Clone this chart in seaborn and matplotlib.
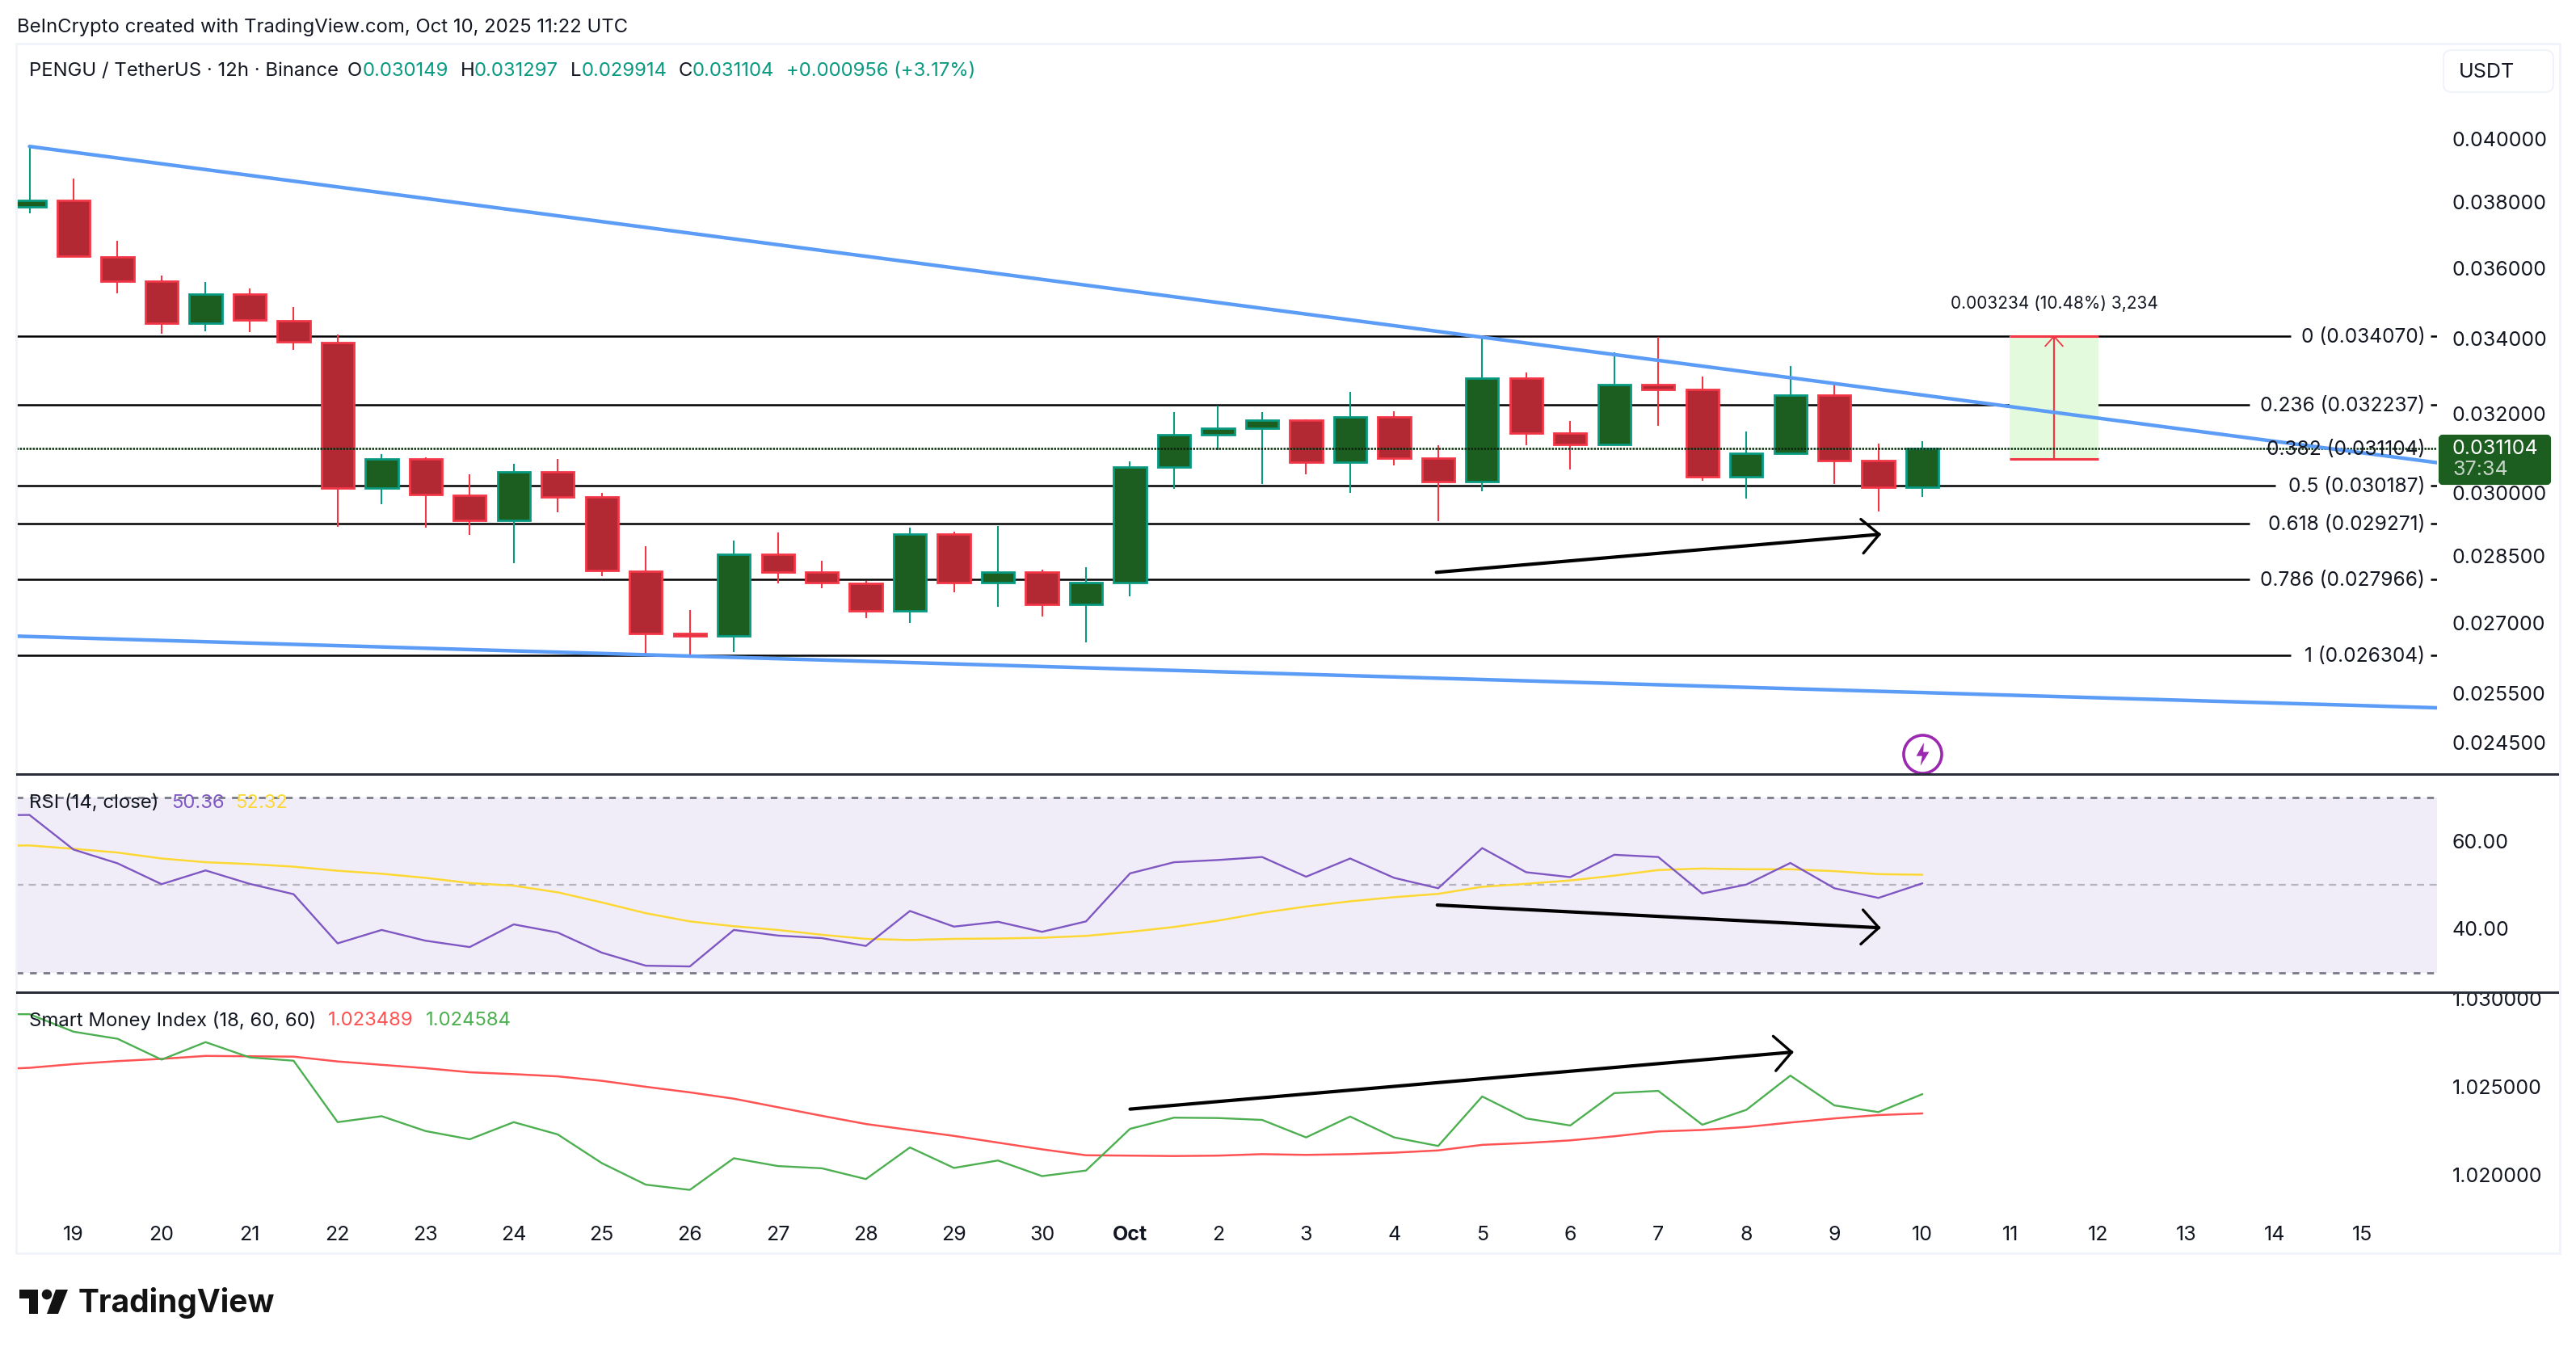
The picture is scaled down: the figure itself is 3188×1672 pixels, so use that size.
import matplotlib
matplotlib.use('Agg')
import matplotlib.pyplot as plt
from matplotlib.patches import Rectangle, FancyBboxPatch, Polygon, Circle
from matplotlib.ticker import NullLocator
from matplotlib.transforms import IdentityTransform
import numpy as np
import seaborn as sns

W, H = 3188, 1672

# 12h candles, Sep 18 12:00 -> Oct 10 00:00
opens = [0.03785, 0.03804, 0.03635, 0.03562, 0.03443, 0.03527, 0.03451, 0.03389, 0.03012, 0.03085, 0.02995,
         0.02934, 0.03053, 0.02990, 0.02816, 0.02677, 0.02672, 0.02855, 0.02813, 0.02788, 0.02726, 0.02902,
         0.02789, 0.02813, 0.02741, 0.02789, 0.03064, 0.03145, 0.03162, 0.03183, 0.03077, 0.03191, 0.03086,
         0.03028, 0.03293, 0.03150, 0.03121, 0.03276, 0.03263, 0.03040, 0.03099, 0.03248, 0.03080, 0.030149]
closes = [0.03805, 0.03636, 0.03562, 0.03443, 0.03527, 0.03452, 0.03391, 0.03012, 0.03085, 0.02997, 0.02934,
          0.03053, 0.02990, 0.02817, 0.02677, 0.02672, 0.02855, 0.02813, 0.02789, 0.02726, 0.02902, 0.02789,
          0.02813, 0.02740, 0.02789, 0.03064, 0.03145, 0.03162, 0.03183, 0.03077, 0.03191, 0.03086, 0.03028,
          0.03293, 0.03150, 0.03120, 0.03276, 0.03263, 0.03040, 0.03098, 0.03248, 0.03081, 0.03014, 0.031104]
highs = [0.03975, 0.03873, 0.03682, 0.03580, 0.03561, 0.03542, 0.03489, 0.03411, 0.03096, 0.03089, 0.03046,
         0.03072, 0.03084, 0.03001, 0.02873, 0.02728, 0.02886, 0.02906, 0.02839, 0.02794, 0.02916, 0.02907,
         0.02921, 0.02820, 0.02824, 0.03079, 0.03203, 0.03220, 0.03203, 0.03186, 0.03257, 0.03205, 0.03119,
         0.03407, 0.03309, 0.03180, 0.03364, 0.03405, 0.03297, 0.03154, 0.03325, 0.03276, 0.03123, 0.031297]
lows = [0.03764, 0.03633, 0.03528, 0.03414, 0.03421, 0.03419, 0.03370, 0.02919, 0.02973, 0.02916, 0.02900,
        0.02834, 0.02953, 0.02804, 0.02632, 0.02624, 0.02637, 0.02788, 0.02777, 0.02711, 0.02700, 0.02768,
        0.02735, 0.02714, 0.02658, 0.02759, 0.03011, 0.03106, 0.03023, 0.03047, 0.03000, 0.03069, 0.02933,
        0.03005, 0.03119, 0.03059, 0.03121, 0.03169, 0.03031, 0.02987, 0.03099, 0.03023, 0.02956, 0.029914]

# indicators start one bar before the first visible candle
rsi = [65.9, 65.97, 58.07, 54.93, 50.17, 53.31, 50.25, 47.88, 36.66, 39.72, 37.26, 35.81, 40.99, 39.12, 34.54, 31.56,
       31.39, 39.72, 38.44, 37.85, 36.07, 44.05, 40.48, 41.59, 39.29, 41.67, 52.63, 55.18, 55.69, 56.37, 51.87,
       56.03, 51.61, 49.24, 58.41, 52.89, 51.78, 56.88, 56.37, 48.05, 50.08, 55.01, 49.24, 47.03, 50.36]
rsi_ma = [58.9, 59.01, 58.24, 57.39, 56.03, 55.18, 54.76, 54.16, 53.23, 52.55, 51.61, 50.42, 49.83, 48.30, 46.01, 43.54,
          41.67, 40.57, 39.72, 38.62, 37.68, 37.43, 37.68, 37.77, 37.94, 38.36, 39.29, 40.40, 41.84, 43.63, 45.07,
          46.26, 47.20, 47.96, 49.58, 50.25, 51.02, 52.12, 53.40, 53.74, 53.57, 53.57, 53.14, 52.46, 52.32]

smi = [1.029115, 1.029115, 1.028123, 1.027722, 1.026540, 1.027532, 1.026667, 1.026477, 1.022995, 1.023333, 1.022489,
       1.022025, 1.022995, 1.022299, 1.020674, 1.019451, 1.019155, 1.020949, 1.020506, 1.020379, 1.019767, 1.021561,
       1.020400, 1.020822, 1.019936, 1.020252, 1.022616, 1.023249, 1.023228, 1.023122, 1.022130, 1.023312, 1.022130,
       1.021645, 1.024451, 1.023206, 1.022806, 1.024641, 1.024768, 1.022848, 1.023692, 1.025633, 1.023945, 1.023565,
       1.024584]
smi_signal = [1.025970, 1.026076, 1.026287, 1.026456, 1.026583, 1.026751, 1.026730, 1.026709, 1.026435, 1.026245,
              1.026055, 1.025823, 1.025717, 1.025591, 1.025338, 1.025000, 1.024684, 1.024325, 1.023840, 1.023354,
              1.022890, 1.022552, 1.022215, 1.021835, 1.021455, 1.021118, 1.021097, 1.021075, 1.021097, 1.021181,
              1.021139, 1.021181, 1.021265, 1.021392, 1.021708, 1.021814, 1.021962, 1.022194, 1.022468, 1.022552,
              1.022721, 1.022974, 1.023206, 1.023396, 1.023489]

fib_ratios = ['0', '0.236', '0.382', '0.5', '0.618', '0.786', '1']
fib_prices = [0.034070, 0.032237, 0.031104, 0.030187, 0.029271, 0.027966, 0.026304]
fib_label_str = ['0.034070', '0.032237', '0.031104', '0.030187', '0.029271', '0.027966', '0.026304']
fib_line_end = [51.36, 50.43, 50.43, 51.01, 50.43, 50.43, 51.36]

price_ticks = [0.040, 0.038, 0.036, 0.034, 0.032, 0.030, 0.0285, 0.027, 0.0255, 0.0245]
rsi_ticks = [60, 40]
smi_ticks = [1.030, 1.025, 1.020]
date_labels = ['19', '20', '21', '22', '23', '24', '25', '26', '27', '28', '29', '30', 'Oct', '2', '3', '4', '5', '6',
               '7', '8', '9', '10', '11', '12', '13', '14', '15']

# drawing tools on the chart, (candle index, value)
XMIN, XMAX = -0.303, 54.69
upper_trend = ([0, XMAX], [0.03975, 0.03075])
lower_trend = ([XMIN, XMAX], [0.02671, 0.02520])
price_arrow = ([31.96, 42.02], [0.02813, 0.02901])
price_head = ([41.60, 42.02, 41.66], [0.02937, 0.02901, 0.02857])
rsi_arrow = ([31.98, 42.01], [45.41, 40.23])
rsi_head = ([41.65, 42.01, 41.60], [44.31, 40.23, 36.49])
smi_arrow = ([25.0, 40.03], [1.023734, 1.026962])
smi_head = ([39.61, 40.03, 39.67], [1.02787, 1.026962, 1.025907])
range_x = [44.98, 47.0, 45.99]
range_prices = [0.03085, 0.03407]

GREEN_BODY, GREEN_EDGE = '#1b5e20', '#089981'
RED_BODY, RED_EDGE = '#b22833', '#f23645'
BLUE = '#5b9cf6'

sns.set_theme(style='white')
plt.rcParams['font.family'] = ['Inter', 'DejaVu Sans']
plt.rcParams['text.color'] = '#131722'

fig = plt.figure(figsize=(W / 100, H / 100), dpi=100, facecolor='white')


def pane(top, bottom, left=20, right=3016):
    return fig.add_axes([left / W, 1 - bottom / H, (right - left) / W, (bottom - top) / H])


def ftext(x, y, s, size=17.2, color='#131722', **kw):
    fig.text(x / W, 1 - y / H, s, fontsize=size, color=color, va='center', **kw)


def pxbox(patch):
    patch.set_transform(IdentityTransform())
    fig.add_artist(patch)


def style(ax, ylim, ticks, labels):
    ax.set_xlim(XMIN, XMAX)
    ax.set_ylim(*ylim)
    ax.yaxis.tick_right()
    ax.set_yticks(ticks)
    ax.set_yticklabels(labels)
    ax.yaxis.set_minor_locator(NullLocator())
    ax.set_xticks([])
    ax.tick_params(axis='y', length=0, pad=13.5, labelsize=18, labelcolor='#131722')
    ax.set_xlabel('')
    ax.set_ylabel('')
    for s in ax.spines.values():
        s.set_visible(False)
    ax.patch.set_alpha(0)


idx = np.arange(len(opens))
ind_idx = np.arange(len(rsi)) - 1
o, c, h, l = map(np.array, (opens, closes, highs, lows))
up = c >= o

# price pane
ax = pane(54, 958)
ax.set_yscale('log')
for i, (price, end) in enumerate(zip(fib_prices, fib_line_end)):
    if fib_ratios[i] != '0.382':
        ax.hlines(price, XMIN, end, color='black', lw=1.8, zorder=1)
        ax.hlines(price, 54.54, XMAX, color='black', lw=1.8, zorder=1)
    ax.annotate(f'{fib_ratios[i]} ({fib_label_str[i]})', (54.42, price), xytext=(0, -1.2), textcoords='offset points',
                ha='right', va='center', fontsize=17.6, zorder=6, color='#131722')
ax.hlines(closes[-1], XMIN, XMAX, color='#06280a', lw=1.8, ls=(0, (1, 0.6)), zorder=4.5)

ax.fill_between(range_x[:2], range_prices[0], range_prices[1], color='#e3fbdc', lw=0, zorder=1.5)
ax.hlines(range_prices, range_x[0], range_x[1], color=RED_EDGE, lw=2.2, zorder=3)
ax.vlines(range_x[2], range_prices[0], range_prices[1], color=RED_EDGE, lw=1.6, zorder=3)
ax.plot([range_x[2] - 0.2, range_x[2], range_x[2] + 0.2], [0.03380, range_prices[1], 0.03380], color=RED_EDGE, lw=1.3,
        zorder=3)
ax.text(range_x[2], 0.03498, '0.003234 (10.48%) 3,234', ha='center', va='center', fontsize=15, color='#131722')

ax.vlines(idx[up], l[up], h[up], color=GREEN_EDGE, lw=1.5, zorder=3)
ax.vlines(idx[~up], l[~up], h[~up], color=RED_EDGE, lw=1.5, zorder=3)
ax.bar(idx[up], (c - o)[up], bottom=o[up], width=0.74, color=GREEN_BODY, edgecolor=GREEN_EDGE, lw=2, zorder=4)
ax.bar(idx[~up], (o - c)[~up], bottom=c[~up], width=0.74, color=RED_BODY, edgecolor=RED_EDGE, lw=2, zorder=4)

ax.plot(*upper_trend, color=BLUE, lw=3.2, zorder=5)
ax.plot(*lower_trend, color=BLUE, lw=3.2, zorder=5)
ax.plot(*price_arrow, color='black', lw=3, solid_capstyle='round', zorder=6)
ax.plot(*price_head, color='black', lw=2.4, solid_capstyle='round', zorder=6)

# dividends-style flash marker under the last candle
bolt = [(0.1, 1), (-0.55, -0.15), (-0.05, -0.15), (-0.2, -1), (0.55, 0.2), (0.05, 0.2), (0.1, 1)]
ax.scatter([43], [0.02428], s=1150, facecolor='white', edgecolor='#9c27b0', lw=2.6, zorder=6)
ax.scatter([43], [0.02428], s=430, marker=bolt, color='#9c27b0', lw=0, zorder=7)

style(ax, (0.02388, 0.04321), price_ticks, [f'{t:.6f}' for t in price_ticks])

# rsi pane
ax2 = pane(958, 1228)
ax2.axhspan(30, 70, color='#7e57c2', alpha=0.1, lw=0)
ax2.axhline(70, color='#787b86', lw=2, ls=(0, (3, 3)))
ax2.axhline(50, color='#787b86', lw=1.6, alpha=0.5, ls=(0, (4, 3)))
ax2.axhline(30, color='#787b86', lw=2, ls=(0, (3, 3)))
sns.lineplot(x=ind_idx, y=rsi_ma, ax=ax2, color='#fdd835', lw=1.8, errorbar=None)
sns.lineplot(x=ind_idx, y=rsi, ax=ax2, color='#7e57c2', lw=1.7, errorbar=None)
ax2.plot(*rsi_arrow, color='black', lw=3, solid_capstyle='round')
ax2.plot(*rsi_head, color='black', lw=2.4, solid_capstyle='round')
style(ax2, (25.5, 75.3), rsi_ticks, [f'{t:.2f}' for t in rsi_ticks])

# smart money pane
ax3 = pane(1228, 1500)
sns.lineplot(x=ind_idx, y=smi_signal, ax=ax3, color='#ff5252', lw=1.8, errorbar=None)
sns.lineplot(x=ind_idx, y=smi, ax=ax3, color='#4caf50', lw=1.7, errorbar=None)
ax3.plot(*smi_arrow, color='black', lw=3, solid_capstyle='round')
ax3.plot(*smi_head, color='black', lw=2.4, solid_capstyle='round')
style(ax3, (1.01790, 1.03036), smi_ticks, [f'{t:.6f}' for t in smi_ticks])
ax3.set_xticks(np.arange(1, 54, 2))
ax3.set_xticklabels(date_labels)
ax3.tick_params(axis='x', length=0, pad=12.4, labelsize=18, labelcolor='#131722')
for t in ax3.get_xticklabels():
    if t.get_text() == 'Oct':
        t.set_fontweight('bold')

# frame and pane separators
pxbox(Rectangle((20, H - 1551), 3148, 1497, fill=False, edgecolor='#f0f3fa', lw=2))
for y in (958, 1228):
    pxbox(Rectangle((20, H - y - 1.5), 3147, 3, facecolor='#2a2e39', lw=0))

# last price badge
pxbox(FancyBboxPatch((3020, H - 598), 135, 58, boxstyle='round,pad=0,rounding_size=3', facecolor=GREEN_BODY,
                     edgecolor=GREEN_BODY, lw=3))
ftext(3035, 555, '0.031104', size=18, color='white')
ftext(3035, 582, '37:34', size=18, color='#c8d4c9')

# currency button
pxbox(FancyBboxPatch((3024, H - 114), 136, 52, boxstyle='round,pad=0,rounding_size=10', facecolor='white',
                     edgecolor='#f0f3fa', lw=1.5))
ftext(3043, 89, 'USDT', size=18)

# header texts
ftext(21, 34, 'BeInCrypto created with TradingView.com, Oct 10, 2025 11:22 UTC')
ftext(36, 88, 'PENGU / TetherUS · 12h · Binance')
for x, s in ((430, 'O'), (570, 'H'), (706, 'L'), (840, 'C')):
    ftext(x, 88, s)
for x, s in ((449, '0.030149'), (587, '0.031297'), (720, '0.029914'), (857, '0.031104'), (973, '+0.000956 (+3.17%)')):
    ftext(x, 88, s, color=GREEN_EDGE)

ftext(36, 994, 'RSI (14, close)')
ftext(212, 994, '50.36', color='#7e57c2')
ftext(291, 994, '52.32', color='#fdd835')
ftext(36, 1263, 'Smart Money Index (18, 60, 60)')
ftext(406, 1263, '1.023489', color='#ff5252')
ftext(527, 1263, '1.024584', color='#4caf50')

# logo
logo = '#131313'
pxbox(Polygon([(24, H - 1596), (47, H - 1596), (47, H - 1626), (36, H - 1626), (36, H - 1607), (24, H - 1607)],
              facecolor=logo, lw=0))
pxbox(Circle((58, H - 1602), 6.3, facecolor=logo, lw=0))
pxbox(Polygon([(69, H - 1596), (84, H - 1596), (72, H - 1626), (58, H - 1626)], facecolor=logo, lw=0))
ftext(97, 1613, 'TradingView', size=28, color=logo, fontweight='bold')

fig.savefig('out.png', dpi=100)
